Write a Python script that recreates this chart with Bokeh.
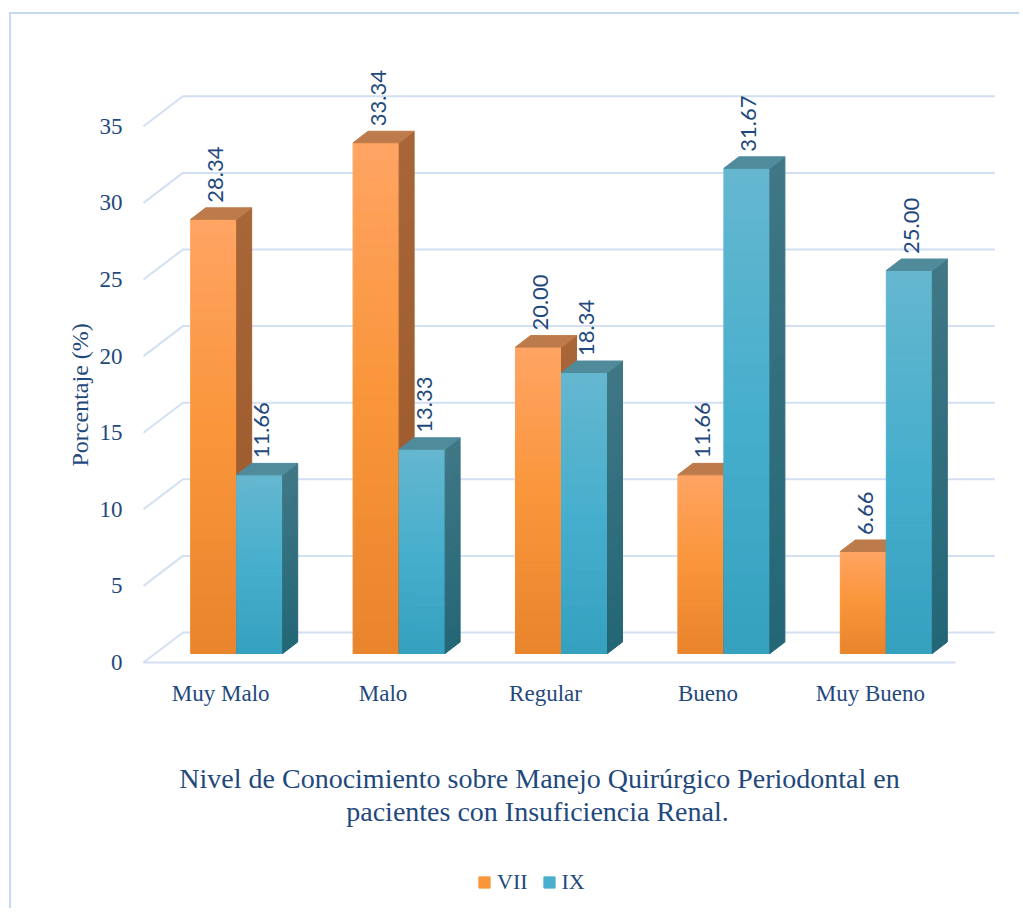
import numpy as np
from bokeh.plotting import figure
from bokeh.models import FixedTicker, Title, Legend, LegendItem
from bokeh.core.properties import value
from bokeh.embed import file_html
from bokeh.resources import INLINE

# ---------------- data ----------------
categories = ["Muy Malo", "Malo", "Regular", "Bueno", "Muy Bueno"]
vii = [28.34, 33.34, 20.00, 11.66, 6.66]
ix = [11.66, 13.33, 18.34, 31.67, 25.00]
series_names = ["VII", "IX"]
y_ticks = [0, 5, 10, 15, 20, 25, 30, 35]
title_lines = ["Nivel de Conocimiento sobre Manejo Quirúrgico Periodontal en",
               "pacientes con Insuficiencia Renal."]
y_label = "Porcentaje (%)"

# ---------------- styling / geometry (pixels of the page) ----------------
PX_X = 162.4   # px per category unit
PX_Y = 15.32   # px per value unit
X0_PAGE = 143  # page x of front axis start (category -0.5)
Y0_PAGE = 662  # page y of front axis zero
wall_dx, wall_dy = 39.4 / PX_X, 30.0 / PX_Y      # back-wall offset
off_dx, off_dy = 12.0 / PX_X, 9.0 / PX_Y         # bar front-face offset
dep_dx, dep_dy = 15.0 / PX_X, 11.5 / PX_Y        # bar depth
bar_w = 46.0 / PX_X
N_STRIPS = 30

# canvas placement on the page
MARGIN_L, MARGIN_T, BORDER = 9, 12, 2
W, H = 1010, 896
CX0, CY0 = MARGIN_L + BORDER, MARGIN_T + BORDER   # page coords of canvas origin


def px_x(page_x):
    return -0.5 + (page_x - X0_PAGE) / PX_X


def px_y(page_y):
    return (Y0_PAGE - page_y) / PX_Y


TXT = "#1F497D"
GRID = "#D3E0F3"
styles = {
    "VII": dict(front=("#E8842C", "#F99539", "#FFA463"), side=("#98572A", "#A86638"), top="#BD7B4B"),
    "IX": dict(front=("#35A0BF", "#47AFCD", "#65B7CF"), side=("#236676", "#3F7785"), top="#4F8B9B"),
}


def hex2rgb(h):
    h = h.lstrip("#")
    return np.array([int(h[i:i + 2], 16) for i in (0, 2, 4)], dtype=float)


def rgb2hex(c):
    c = np.clip(np.round(c), 0, 255).astype(int)
    return "#%02x%02x%02x" % tuple(c)


def grad(stops, t):
    stops = [hex2rgb(s) for s in stops]
    if len(stops) == 2:
        return rgb2hex(stops[0] + (stops[1] - stops[0]) * t)
    if t <= 0.5:
        return rgb2hex(stops[0] + (stops[1] - stops[0]) * (t / 0.5))
    return rgb2hex(stops[1] + (stops[2] - stops[1]) * ((t - 0.5) / 0.5))


FRAME_L = 130                 # page x of frame left
FRAME_R = CX0 + W             # page x of frame right
FRAME_T = CY0                 # page y of frame top
FRAME_B = CY0 + H             # page y of frame bottom
p = figure(width=W, height=H,
           x_range=(px_x(FRAME_L), px_x(FRAME_R)),
           y_range=(px_y(FRAME_B), px_y(FRAME_T)),
           x_axis_location=None,
           output_backend="svg", toolbar_location=None,
           min_border_left=FRAME_L - CX0, min_border_right=0, min_border_top=0, min_border_bottom=0)
p.xgrid.visible = False
p.ygrid.visible = False
p.outline_line_color = None
p.styles = {"border-top": f"{BORDER}px solid #C6D9F1", "border-left": f"{BORDER}px solid #C6D9F1",
            "margin-left": f"{MARGIN_L}px", "margin-top": f"{MARGIN_T}px"}

# y axis
ya = p.yaxis[0]
ya.ticker = FixedTicker(ticks=y_ticks)
ya.axis_line_color = None
ya.major_tick_line_color = None
ya.minor_tick_line_color = None
ya.major_tick_out = 0
ya.major_tick_in = 0
ya.major_label_standoff = 8
ya.major_label_text_font = "Liberation Serif"
ya.major_label_text_font_size = "23px"
ya.major_label_text_color = TXT

ytitle = Title(text=y_label, align="left", offset=FRAME_B - 466, text_font="Liberation Serif",
               text_font_size="24px", text_font_style="normal", text_color=TXT, standoff=7)
p.add_layout(ytitle, "left")

# gridlines in perspective
n = len(categories)
gx, gy = [], []
for t in y_ticks:
    gx.append([-0.5, -0.5 + wall_dx, n - 0.5 + wall_dx])
    gy.append([t, t + wall_dy, t + wall_dy])
gx.append([-0.5, n - 0.5])
gy.append([0, 0])
p.multi_line(gx, gy, line_color=GRID, line_width=2)

# bars
front_renderers = []
for s_idx, (name, vals) in enumerate(zip(series_names, [vii, ix])):
    st = styles[name]
    fl, fr, fb, ft, fc = [], [], [], [], []
    sxs, sys_, sc = [], [], []
    txs, tys = [], []
    for i, v in enumerate(vals):
        left = i + off_dx - bar_w + s_idx * bar_w
        right = left + bar_w
        b0 = off_dy
        b1 = v + off_dy
        edges = np.linspace(b0, b1, N_STRIPS + 1)
        for k in range(N_STRIPS):
            tmid = (k + 0.5) / N_STRIPS
            y0, y1 = edges[k], edges[k + 1]
            fl.append(left); fr.append(right)
            fb.append(y0); ft.append(y1)
            fc.append(grad(st["front"], tmid))
            sxs.append([right, right + dep_dx, right + dep_dx, right])
            sys_.append([y0, y0 + dep_dy, y1 + dep_dy, y1])
            sc.append(grad(st["side"], tmid))
        txs.append([left, right, right + dep_dx, left + dep_dx])
        tys.append([b1, b1, b1 + dep_dy, b1 + dep_dy])
    r = p.quad(left=fl, right=fr, bottom=fb, top=ft, fill_color=fc, line_color=fc, line_width=1)
    front_renderers.append(r)
    p.patches(sxs, sys_, fill_color=sc, line_color=sc, line_width=1)
    p.patches(txs, tys, fill_color=st["top"], line_color=st["top"], line_width=1)

# data labels
lx, ly, lt = [], [], []
for s_idx, vals in enumerate([vii, ix]):
    for i, v in enumerate(vals):
        left = i + off_dx - bar_w + s_idx * bar_w
        lx.append(left + bar_w / 2 + 2 / PX_X)
        ly.append(v + off_dy + dep_dy + 5 / PX_Y)
        lt.append(f"{v:.2f}")
p.text(x=lx, y=ly, text=lt, angle=np.pi / 2, text_align="left", text_baseline="middle",
       text_font=value("Lato"), text_font_size="22px", text_color=TXT)

# category labels (under the front floor edge)
p.text(x=[i - 4 / PX_X for i in range(n)], y=[px_y(693)] * n, text=categories,
       text_align="center", text_baseline="middle",
       text_font=value("Liberation Serif"), text_font_size="23px", text_color=TXT)

# chart caption
p.text(x=[px_x(539), px_x(537)], y=[px_y(778), px_y(811)], text=title_lines,
       text_align="center", text_baseline="middle",
       text_font=value("Liberation Serif"), text_font_size="28px", text_color=TXT)

# legend
items = [LegendItem(label=name, renderers=[r], index=N_STRIPS // 2)
         for name, r in zip(series_names, front_renderers)]
legend = Legend(items=items, orientation="horizontal", location=(477 - FRAME_L, FRAME_B - 882 - 13),
                border_line_color=None, background_fill_alpha=0,
                label_text_font="Liberation Serif", label_text_font_size="22px",
                label_text_color=TXT, glyph_width=14, glyph_height=14, label_height=26,
                spacing=14, label_standoff=6, padding=0, margin=0)
p.add_layout(legend)

open("out.html", "w").write(file_html(p, INLINE))
